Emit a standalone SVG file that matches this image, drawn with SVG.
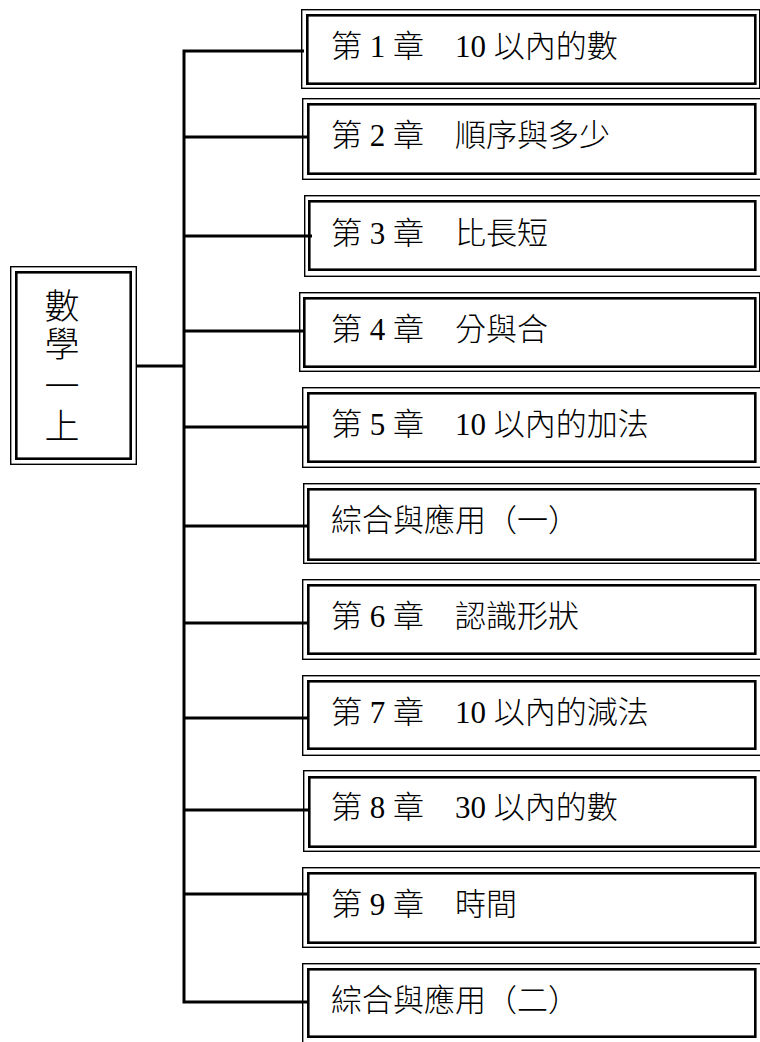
<svg xmlns="http://www.w3.org/2000/svg" width="760" height="1042" viewBox="0 0 760 1042">
<style>
.o{fill:none;stroke:#000;stroke-width:1.4}
.i{fill:none;stroke:#000;stroke-width:2.6}
.t{font-family:"Liberation Serif","Noto Sans CJK TC",serif;font-size:31px;font-weight:300;fill:#000}
.m{font-family:"Liberation Serif","Noto Sans CJK TC",serif;font-size:35px;font-weight:300;fill:#000;text-anchor:middle}
.c{fill:none;stroke:#000;stroke-width:3}
</style>
<rect width="760" height="1042" fill="#fff"/>
<g id="connectors">
<path class="c" d="M137 366H184"/>
<path class="c" d="M304 51H184V1002H308" stroke-width="3.5"/>
<path class="c" d="M184 137H307"/>
<path class="c" d="M184 236H312"/>
<path class="c" d="M184 331H303"/>
<path class="c" d="M184 427H309"/>
<path class="c" d="M184 526H307"/>
<path class="c" d="M184 623H309"/>
<path class="c" d="M184 718H307"/>
<path class="c" d="M184 810H309"/>
<path class="c" d="M184 894H309"/>
</g>
<g id="main">
<rect class="o" x="10.7" y="266.7" width="125.6" height="197.6"/>
<rect class="i" x="16.3" y="272.3" width="114.4" height="186.4"/>
<text class="m" x="62" y="319">數</text>
<text class="m" x="62" y="357">學</text>
<text class="m" x="62" y="399">一</text>
<text class="m" x="62" y="439">上</text>
</g>
<g id="n1"><rect class="o" x="301.7" y="9.7" width="458" height="78.6"/><rect class="i" x="307.3" y="15.3" width="448" height="68.4"/><text class="t" x="331" y="57">第 1 章　10 以內的數</text></g>
<g id="n2"><rect class="o" x="302.7" y="98.7" width="458" height="80.6"/><rect class="i" x="308.3" y="104.3" width="447" height="69.4"/><text class="t" x="331" y="146">第 2 章　順序與多少</text></g>
<g id="n3"><rect class="o" x="304.7" y="195.7" width="458" height="80.6"/><rect class="i" x="309.3" y="201.3" width="446" height="68.4"/><text class="t" x="331" y="244">第 3 章　比長短</text></g>
<g id="n4"><rect class="o" x="299.7" y="292.7" width="460" height="78.6"/><rect class="i" x="304.3" y="298.3" width="451" height="68.4"/><text class="t" x="331" y="340">第 4 章　分與合</text></g>
<g id="n5"><rect class="o" x="302.7" y="387.7" width="458" height="79.6"/><rect class="i" x="308.3" y="393.3" width="447" height="68.4"/><text class="t" x="331" y="435">第 5 章　10 以內的加法</text></g>
<g id="n6"><rect class="o" x="303.7" y="483.7" width="458" height="79.6"/><rect class="i" x="308.3" y="489.3" width="447" height="70.4"/><text class="t" x="331" y="531">綜合與應用（一）</text></g>
<g id="n7"><rect class="o" x="302.7" y="579.7" width="458" height="79.6"/><rect class="i" x="308.3" y="585.3" width="447" height="68.4"/><text class="t" x="331" y="627">第 6 章　認識形狀</text></g>
<g id="n8"><rect class="o" x="302.7" y="675.7" width="458" height="79.6"/><rect class="i" x="308.3" y="681.3" width="447" height="67.4"/><text class="t" x="331" y="723">第 7 章　10 以內的減法</text></g>
<g id="n9"><rect class="o" x="303.7" y="770.7" width="458" height="80.6"/><rect class="i" x="309.3" y="777.3" width="446" height="69.4"/><text class="t" x="331" y="818">第 8 章　30 以內的數</text></g>
<g id="n10"><rect class="o" x="302.7" y="867.7" width="458" height="79.6"/><rect class="i" x="308.3" y="873.3" width="447" height="69.4"/><text class="t" x="331" y="915">第 9 章　時間</text></g>
<g id="n11"><rect class="o" x="302.7" y="963.7" width="458" height="82"/><rect class="i" x="308.3" y="969.3" width="447" height="67.4"/><text class="t" x="331" y="1011">綜合與應用（二）</text></g>
</svg>
